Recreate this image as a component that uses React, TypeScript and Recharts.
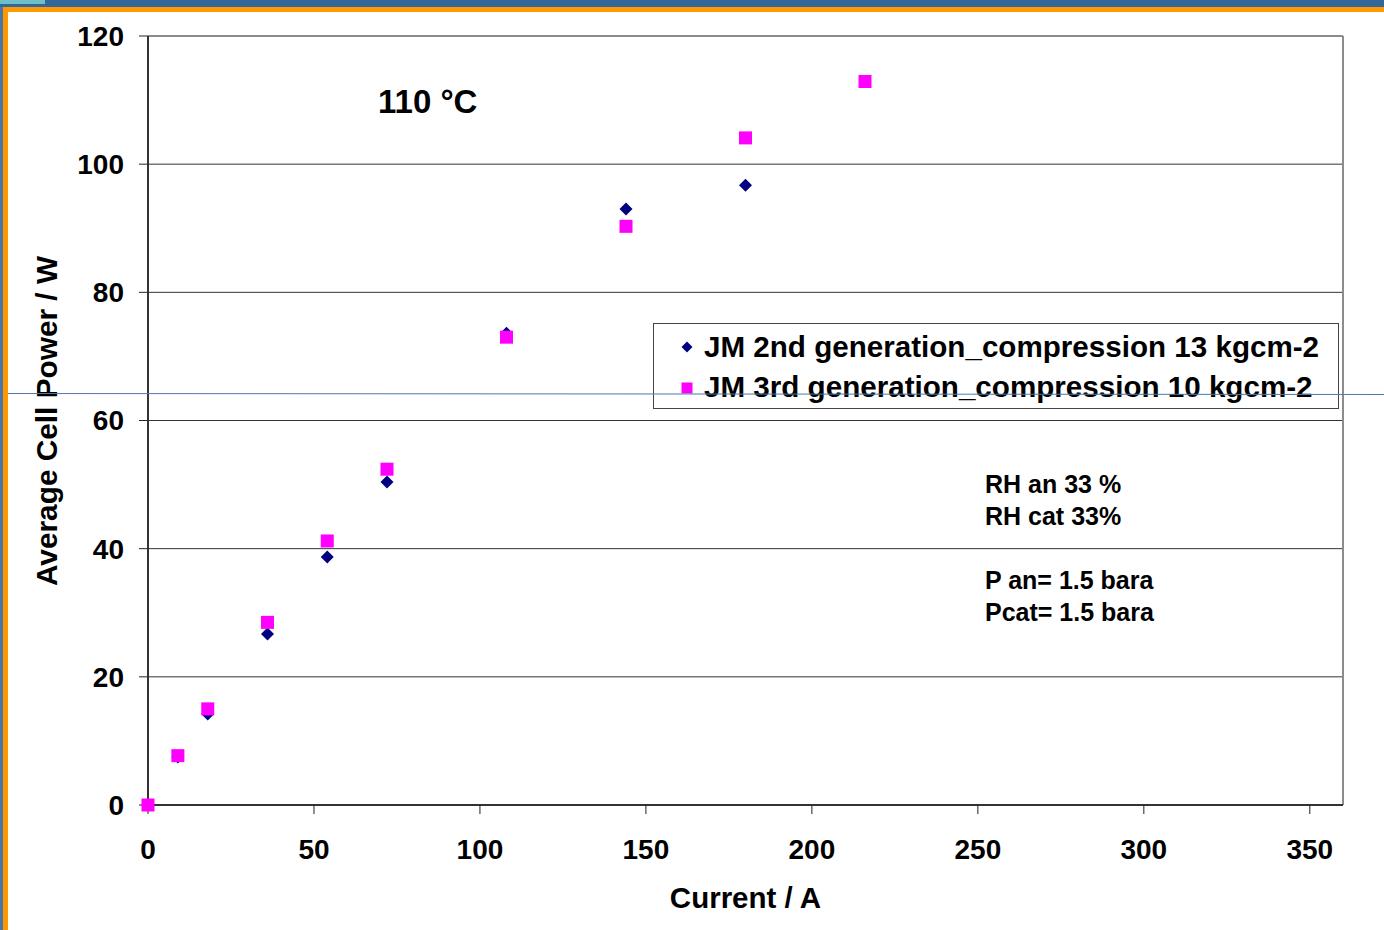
import {
  ScatterChart,
  Scatter,
  XAxis,
  YAxis,
  CartesianGrid,
  ReferenceLine,
  Legend,
} from 'recharts'

// current (A) and average cell power (W) for the two MEA generations
const currentGen2 = [0, 9, 18, 36, 54, 72, 108, 144, 180]
const powerGen2 = [0, 7.5, 14.2, 26.7, 38.7, 50.4, 73.6, 93.0, 96.7]
const currentGen3 = [0, 9, 18, 36, 54, 72, 108, 144, 180, 216]
const powerGen3 = [0, 7.7, 15.0, 28.5, 41.2, 52.4, 73.0, 90.3, 104.1, 112.9]

const xTicks = [0, 50, 100, 150, 200, 250, 300, 350]
const yTicks = [0, 20, 40, 60, 80, 100, 120]

const seriesNames = [
  'JM 2nd generation_compression 13 kgcm-2',
  'JM 3rd generation_compression 10 kgcm-2',
]
const notes = ['RH an 33 %', 'RH cat 33%', 'P an= 1.5 bara', 'Pcat= 1.5 bara']

const FONT = '"Liberation Sans", Arial, Helvetica, sans-serif'
const NAVY = '#000080'
const MAGENTA = '#FF00FF'

const gen2 = currentGen2.map((x, i) => ({ x, y: powerGen2[i] }))
const gen3 = currentGen3.map((x, i) => ({ x, y: powerGen3[i] }))

function Diamond({ cx, cy, r = 6.5 }: any) {
  return (
    <polygon
      points={`${cx},${cy - r} ${cx + r},${cy} ${cx},${cy + r} ${cx - r},${cy}`}
      fill={NAVY}
    />
  )
}

function Square({ cx, cy, r = 6.5 }: any) {
  return <rect x={cx - r} y={cy - r} width={r * 2} height={r * 2} fill={MAGENTA} />
}

function LegendBox() {
  return (
    <svg width={686} height={86} style={{ display: 'block' }}>
      <rect x={0.5} y={0.5} width={685} height={85} fill="#fff" stroke="#444" strokeWidth={1} />
      <Diamond cx={34} cy={24} r={5.5} />
      <Square cx={34} cy={65} r={5.5} />
      <text x={51} y={34} fontFamily={FONT} fontWeight="bold" fontSize={29.6} fill="#000">
        {seriesNames[0]}
      </text>
      <text x={51} y={74} fontFamily={FONT} fontWeight="bold" fontSize={29.6} fill="#000">
        {seriesNames[1]}
      </text>
    </svg>
  )
}

export default function App() {
  return (
    <div
      style={{
        position: 'absolute',
        left: 0,
        top: 0,
        width: 1384,
        height: 930,
        background: '#fff',
        overflow: 'hidden',
        fontFamily: FONT,
      }}
    >
      <ScatterChart
        width={1384}
        height={930}
        margin={{ top: 36, right: 41, left: 0, bottom: 0 }}
      >
        <CartesianGrid vertical={false} stroke="#333" strokeWidth={1} />
        <XAxis
          type="number"
          dataKey="x"
          domain={[0, 360]}
          ticks={xTicks}
          height={125}
          tickSize={9}
          tickMargin={25}
          axisLine={{ stroke: '#333', strokeWidth: 2 }}
          tickLine={{ stroke: '#222', strokeWidth: 1 }}
          tick={{ fill: '#000', fontSize: 28, fontWeight: 'bold', fontFamily: FONT }}
          label={{
            value: 'Current / A',
            position: 'insideBottom',
            offset: 22,
            fill: '#000',
            fontSize: 29.5,
            fontWeight: 'bold',
            fontFamily: FONT,
          }}
        />
        <YAxis
          type="number"
          dataKey="y"
          domain={[0, 120]}
          ticks={yTicks}
          width={148}
          tickSize={9}
          tickMargin={15}
          axisLine={{ stroke: '#333', strokeWidth: 2 }}
          tickLine={{ stroke: '#222', strokeWidth: 1 }}
          tick={{ fill: '#000', fontSize: 28, fontWeight: 'bold', fontFamily: FONT }}
        />
        <ReferenceLine y={120} stroke="#8c8c8c" strokeWidth={2} />
        <ReferenceLine x={360} stroke="#8c8c8c" strokeWidth={2} />
        <Legend
          layout="horizontal"
          verticalAlign="middle"
          align="center"
          content={<LegendBox />}
          wrapperStyle={{ left: 653, top: 323, width: 686, height: 86 }}
        />
        <Scatter name={seriesNames[0]} data={gen2} shape={<Diamond />} isAnimationActive={false} />
        <Scatter name={seriesNames[1]} data={gen3} shape={<Square />} isAnimationActive={false} />
      </ScatterChart>

      {/* titles and run conditions */}
      <svg
        width={1384}
        height={930}
        style={{ position: 'absolute', left: 0, top: 0, pointerEvents: 'none' }}
      >
        <text x={378} y={113} fontFamily={FONT} fontWeight="bold" fontSize={33} fill="#000">
          110 °C
        </text>
        <text
          transform="translate(57,421) rotate(-90)"
          textAnchor="middle"
          fontFamily={FONT}
          fontWeight="bold"
          fontSize={29.8}
          fill="#000"
        >
          Average Cell Power / W
        </text>
        {notes.map((t, i) => (
          <text
            key={t}
            x={985}
            y={[493, 525, 589, 621][i]}
            fontFamily={FONT}
            fontWeight="bold"
            fontSize={25}
            fill="#000"
          >
            {t}
          </text>
        ))}
        <line x1={0} y1={393.5} x2={1384} y2={394.5} stroke="#4f7aa8" strokeWidth={1} />
      </svg>

      {/* slide frame */}
      <div style={{ position: 'absolute', left: 0, top: 0, width: 1384, height: 7, background: '#336699' }} />
      <div style={{ position: 'absolute', left: 0, top: 0, width: 45, height: 4, background: '#6fbfc8' }} />
      <div style={{ position: 'absolute', left: 0, top: 7, width: 1384, height: 5, background: '#ff9900' }} />
      <div style={{ position: 'absolute', left: 0, top: 7, width: 3, height: 923, background: '#4a77a8' }} />
      <div style={{ position: 'absolute', left: 3, top: 7, width: 5, height: 923, background: '#ff9900' }} />
    </div>
  )
}
